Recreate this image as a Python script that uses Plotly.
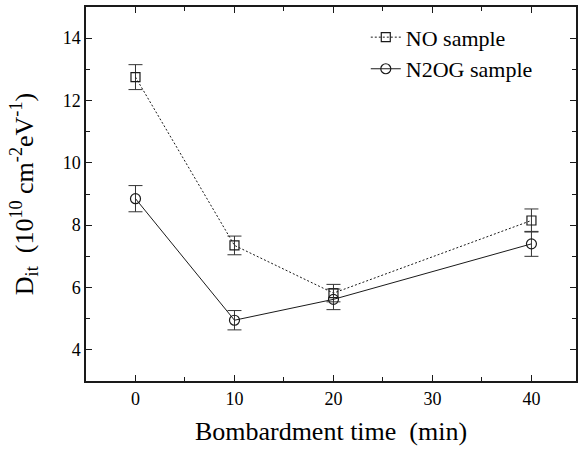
import plotly.graph_objects as go

# Bombardment time (min)
time_min = [0, 10, 20, 40]

# Interface trap density, 10^10 cm^-2 eV^-1
no_dit = [12.75, 7.35, 5.82, 8.15]
no_err = [0.40, 0.30, 0.28, 0.37]
n2og_dit = [8.85, 4.95, 5.62, 7.40]
n2og_err = [0.42, 0.31, 0.33, 0.40]

x_ticks = [0, 10, 20, 30, 40]
y_ticks = [4, 6, 8, 10, 12, 14]

FONT = "Liberation Serif, Times New Roman, serif"
INK = "#1a1a1a"

fig = go.Figure()

fig.add_trace(go.Scatter(
    x=time_min, y=no_dit, name="NO sample", mode="lines+markers",
    line=dict(color=INK, width=1, dash="2px,2px"),
    marker=dict(symbol="square-open", size=9, color=INK, line=dict(width=1.2)),
    error_y=dict(type="data", array=no_err, visible=True, color="#333", thickness=1, width=7),
))
fig.add_trace(go.Scatter(
    x=time_min, y=n2og_dit, name="N2OG sample", mode="lines+markers",
    line=dict(color=INK, width=1),
    marker=dict(symbol="circle-open", size=10, color=INK, line=dict(width=1.2)),
    error_y=dict(type="data", array=n2og_err, visible=True, color="#333", thickness=1, width=7),
))

fig.update_layout(
    width=578, height=451,
    margin=dict(l=86, r=0, t=7, b=70),
    paper_bgcolor="white", plot_bgcolor="white",
    font=dict(family=FONT, color="black", size=18),
    showlegend=True,
    legend=dict(
        x=0.571, y=0.975, xanchor="left", yanchor="top",
        bgcolor="rgba(0,0,0,0)", font=dict(size=22, family=FONT),
        tracegroupgap=0, itemwidth=30,
    ),
    xaxis=dict(
        range=[-5, 44.5], tickvals=x_ticks, ticks="inside", ticklen=6,
        tickwidth=1.2, tickcolor=INK, showline=True, linecolor=INK, linewidth=2,
        mirror="ticks", showgrid=False, zeroline=False,
        tickfont=dict(size=18, family=FONT),
        minor=dict(dtick=5, tick0=5, ticks="inside", ticklen=4, tickcolor=INK, showgrid=False),
        title=dict(text="Bombardment time  (min)", font=dict(size=26, family=FONT), standoff=14),
    ),
    yaxis=dict(
        range=[3, 15], tickvals=y_ticks, ticks="inside", ticklen=6,
        tickwidth=1.2, tickcolor=INK, showline=True, linecolor=INK, linewidth=1.5,
        mirror="ticks", showgrid=False, zeroline=False,
        tickfont=dict(size=18, family=FONT),
        minor=dict(dtick=1, tick0=3, ticks="inside", ticklen=4, tickcolor=INK, showgrid=False),
        title=dict(
            text="D<sub>it</sub>  (10<sup>10</sup> cm<sup>-2</sup>eV<sup>-1</sup>)",
            font=dict(size=26, family=FONT), standoff=22,
        ),
    ),
)

fig.write_html("out.html")
